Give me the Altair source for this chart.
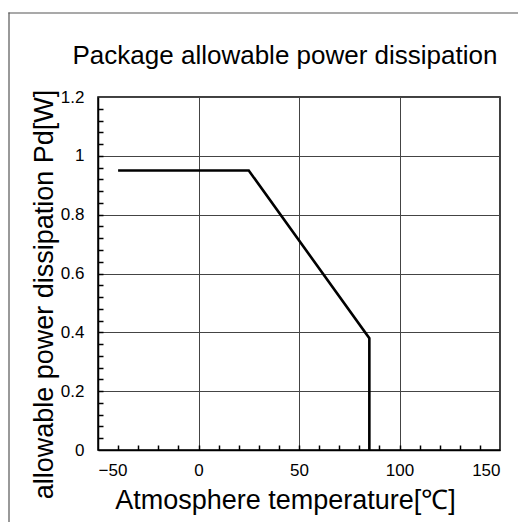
import altair as alt
import pandas as pd

# Derating curve
temp = [-40, 25, 85, 85]
power = [0.95, 0.95, 0.38, 0.0]

x_ticks = [-50, 0, 50, 100, 150]
y_ticks = [0, 0.2, 0.4, 0.6, 0.8, 1.0, 1.2]
x_minor = list(range(-40, 150, 10))
y_minor = [round(i * 0.04, 2) for i in range(1, 30)]

df = pd.DataFrame({"t": temp, "p": power, "o": list(range(len(temp)))})

FONT = "Liberation Sans"
W, H = 402, 353
PL, PT = 90, 89

xs = alt.Scale(domain=[-50, 150], nice=False, zero=False)
ys = alt.Scale(domain=[0, 1.2], nice=False)

line = alt.Chart(df).mark_line(color="black", strokeWidth=2.6, clip=False).encode(
    x=alt.X("t:Q", scale=xs, title="Atmosphere temperature[℃]",
            axis=alt.Axis(values=x_ticks, grid=True, gridColor="#444444", gridWidth=1,
                          ticks=False, domainColor="black", domainWidth=1.5,
                          labelFont=FONT, labelFontSize=17, labelColor="black", labelPadding=12,
                          titleFont=FONT, titleFontSize=27, titleFontWeight="normal",
                          titleColor="black", titleX=187, titleY=58, titleAlign="center",
                          titleBaseline="alphabetic", orient="bottom")),
    y=alt.Y("p:Q", scale=ys, title="allowable power dissipation Pd[W]",
            axis=alt.Axis(values=y_ticks, grid=True, gridColor="#444444", gridWidth=1,
                          ticks=False, domainColor="black", domainWidth=1.5, format=".1~f",
                          labelFont=FONT, labelFontSize=17, labelColor="black", labelPadding=14,
                          titleFont=FONT, titleFontSize=27, titleFontWeight="normal",
                          titleColor="black", titleX=-46, titleY=197, titleAngle=270,
                          titleAlign="center", titleBaseline="alphabetic", orient="left")),
    order="o:O",
)

minor = alt.Chart(pd.DataFrame({"t": [0], "p": [0]})).mark_point(opacity=0).encode(
    x=alt.X("t:Q", scale=xs, title=None,
            axis=alt.Axis(values=x_minor, orient="bottom", offset=-5, tickSize=5,
                          tickColor="black", tickWidth=1.5, domain=False, labels=False,
                          grid=False)),
    y=alt.Y("p:Q", scale=ys, title=None,
            axis=alt.Axis(values=y_minor, orient="left", offset=-5, tickSize=5,
                          tickColor="black", tickWidth=1.5, domain=False, labels=False,
                          grid=False)),
)

one = pd.DataFrame({"a": [0]})
FX, FY = 9 - 8 - PL, 13 - 8 - PT
frame_top = alt.Chart(one).mark_rect(color="#555555", clip=False).encode(
    x=alt.value(FX - 0.6), x2=alt.value(700), y=alt.value(FY - 0.6), y2=alt.value(FY + 0.6),
)
frame_left = alt.Chart(one).mark_rect(color="#555555", clip=False).encode(
    x=alt.value(FX - 0.6), x2=alt.value(FX + 0.6), y=alt.value(FY - 0.6), y2=alt.value(700),
)

chart = alt.layer(frame_top, frame_left, line, minor).resolve_axis(
    x="independent", y="independent"
).properties(
    width=W, height=H,
    autosize=alt.AutoSizeParams(type="none"),
    padding={"left": PL, "top": PT, "right": 18, "bottom": 72},
    title=alt.TitleParams("Package allowable power dissipation", font=FONT, fontSize=26,
                          fontWeight="normal", color="black", anchor="middle", frame="group",
                          baseline="alphabetic", dx=-14, offset=-78),
).configure_view(stroke="black", strokeWidth=1.5)

chart.save("out.html", embed_options={"renderer": "svg", "actions": False})
